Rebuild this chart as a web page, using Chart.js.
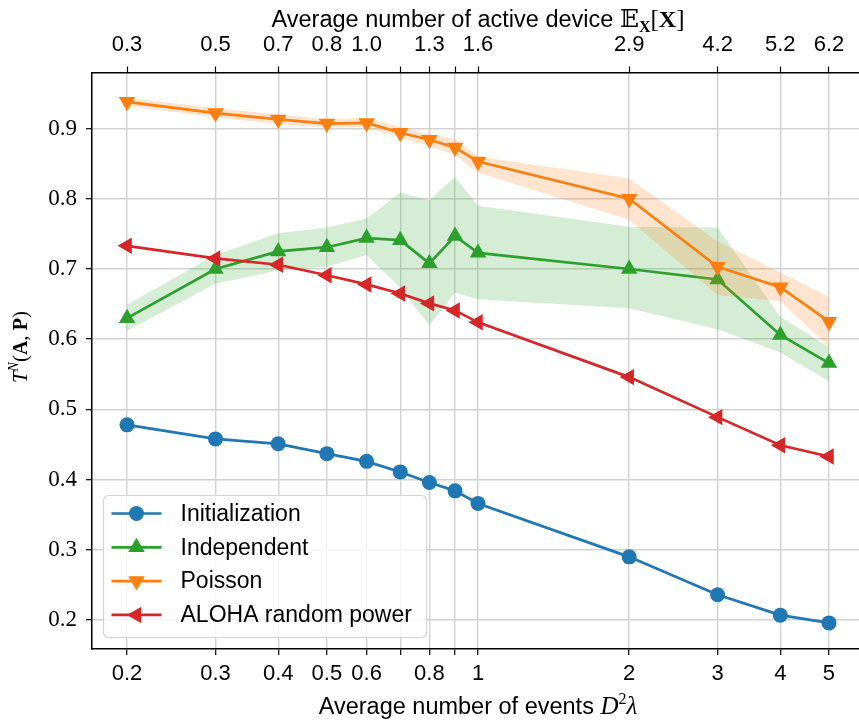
<!DOCTYPE html>
<html>
<head>
<meta charset="utf-8">
<script src="https://cdn.jsdelivr.net/npm/chart.js@4.4.1/dist/chart.umd.min.js"></script>
<style>
  html, body { margin: 0; padding: 0; background: #fff; overflow: hidden; }
  #wrap { width: 859px; height: 724px; }
</style>
</head>
<body>
<div id="wrap"><canvas id="chart" width="859" height="724"></canvas></div>
<script>
// average number of events D^2 lambda (bottom axis) and matching E_X[X] (top axis)
const xValues = [0.2, 0.3, 0.4, 0.5, 0.6, 0.7, 0.8, 0.9, 1, 2, 3, 4, 5];
const bottomLabels = ['0.2', '0.3', '0.4', '0.5', '0.6', '', '0.8', '', '1', '2', '3', '4', '5'];
const topLabels = ['0.3', '0.5', '0.7', '0.8', '1.0', '', '1.3', '', '1.6', '2.9', '4.2', '5.2', '6.2'];
const yTicks = [0.2, 0.3, 0.4, 0.5, 0.6, 0.7, 0.8, 0.9];

const initialization = [0.478, 0.458, 0.451, 0.437, 0.426, 0.411, 0.396, 0.384, 0.366, 0.290, 0.236, 0.207, 0.196];
const independent = [0.630, 0.700, 0.725, 0.731, 0.744, 0.741, 0.708, 0.747, 0.723, 0.700, 0.685, 0.606, 0.566];
const independentUpper = [0.649, 0.720, 0.751, 0.759, 0.772, 0.809, 0.798, 0.831, 0.790, 0.760, 0.759, 0.632, 0.589];
const independentLower = [0.612, 0.679, 0.698, 0.703, 0.720, 0.673, 0.620, 0.666, 0.657, 0.644, 0.614, 0.581, 0.540];
const poisson = [0.938, 0.922, 0.913, 0.907, 0.908, 0.894, 0.884, 0.873, 0.853, 0.800, 0.703, 0.674, 0.625];
const poissonUpper = [0.944, 0.929, 0.920, 0.913, 0.915, 0.902, 0.892, 0.885, 0.860, 0.829, 0.739, 0.695, 0.660];
const poissonLower = [0.932, 0.916, 0.906, 0.902, 0.902, 0.887, 0.875, 0.862, 0.837, 0.770, 0.663, 0.654, 0.589];
const aloha = [0.733, 0.715, 0.706, 0.691, 0.678, 0.665, 0.651, 0.641, 0.624, 0.546, 0.489, 0.449, 0.433];

const SANS = "'Liberation Sans', Arial, sans-serif";
const SERIF = "'Liberation Serif', 'DejaVu Serif', serif";

const pts = (arr) => arr.map((y, i) => ({ x: xValues[i], y: y }));

function line(label, values, color, style, rotation, radius, order) {
  return {
    label: label,
    data: pts(values),
    borderColor: color,
    backgroundColor: color,
    borderWidth: 2.7,
    pointStyle: style,
    pointRotation: rotation,
    pointRadius: radius,
    pointBorderWidth: 0,
    tension: 0,
    fill: false,
    order: order,
  };
}

function band(values, color, fill, order) {
  return {
    band: true,
    data: pts(values),
    borderWidth: 0,
    pointRadius: 0,
    backgroundColor: color,
    tension: 0,
    fill: fill,
    order: order,
  };
}

const datasets = [
  line('Initialization', initialization, '#1f77b4', 'circle', 0, 7.5, 6),
  band(independentUpper, 'rgba(44,160,44,0.2)', false, 5),
  band(independentLower, 'rgba(44,160,44,0.2)', '-1', 5),
  line('Independent', independent, '#2ca02c', 'triangle', 0, 9.5, 4),
  band(poissonUpper, 'rgba(255,127,14,0.2)', false, 3),
  band(poissonLower, 'rgba(255,127,14,0.2)', '-1', 3),
  line('Poisson', poisson, '#ff7f0e', 'triangle', 180, 9.5, 2),
  line('ALOHA random power', aloha, '#d62728', 'triangle', 270, 9.5, 1),
];

// draws a row of text pieces (mixed fonts) centred on (x, y)
function drawRuns(ctx, runs, x, y, angle) {
  ctx.save();
  ctx.translate(x, y);
  ctx.rotate(angle);
  let total = 0;
  runs.forEach(r => { ctx.font = r.font; r.w = ctx.measureText(r.text).width; total += r.w; });
  let cx = -total / 2;
  ctx.fillStyle = '#000';
  ctx.textAlign = 'left';
  ctx.textBaseline = 'alphabetic';
  runs.forEach(r => { ctx.font = r.font; ctx.fillText(r.text, cx, r.dy || 0); cx += r.w; });
  ctx.restore();
}

const axisTitles = {
  id: 'axisTitles',
  afterDraw(chart) {
    const ctx = chart.ctx;
    const mid = 478;
    drawRuns(ctx, [
      { text: 'Average number of active device ', font: '23.5px ' + SANS },
      { text: '\u{1D53C}', font: '25px ' + SERIF },
      { text: 'X', font: 'bold 16px ' + SERIF, dy: 5 },
      { text: '[', font: '25px ' + SERIF },
      { text: 'X', font: 'bold 24px ' + SERIF },
      { text: ']', font: '25px ' + SERIF },
    ], mid, 27, 0);
    drawRuns(ctx, [
      { text: 'Average number of events ', font: '23.5px ' + SANS },
      { text: 'D', font: 'italic 25px ' + SERIF },
      { text: '2', font: '16px ' + SERIF, dy: -10 },
      { text: '\u03BB', font: 'italic 25px ' + SERIF },
    ], mid, 714, 0);
    drawRuns(ctx, [
      { text: 'T', font: 'italic 21px ' + SERIF },
      { text: 'N', font: 'italic 14px ' + SERIF, dy: -9 },
      { text: '(', font: '21px ' + SERIF },
      { text: 'A', font: 'bold 20px ' + SERIF },
      { text: ', ', font: '21px ' + SERIF },
      { text: 'P', font: 'bold 20px ' + SERIF },
      { text: ')', font: '21px ' + SERIF },
    ], 27, 347, -Math.PI / 2);
  }
};

const boxLegend = {
  id: 'boxLegend',
  afterDraw(chart) {
    const ctx = chart.ctx;
    const a = chart.chartArea;
    const items = chart.data.datasets.filter(d => !d.band);
    const x0 = a.left + 11, w = 323, h = 142;
    const y0 = a.bottom - 12 - h;
    ctx.save();
    ctx.beginPath();
    ctx.roundRect(x0 + 0.5, y0 + 0.5, w, h, 5);
    ctx.fillStyle = 'rgba(255,255,255,0.8)';
    ctx.fill();
    ctx.strokeStyle = '#d4d4d4';
    ctx.lineWidth = 1.2;
    ctx.stroke();
    items.forEach((d, i) => {
      const cy = y0 + 18.5 + i * 33.8;
      ctx.strokeStyle = d.borderColor;
      ctx.lineWidth = d.borderWidth;
      ctx.beginPath();
      ctx.moveTo(x0 + 8.5, cy);
      ctx.lineTo(x0 + 58.5, cy);
      ctx.stroke();
      ctx.fillStyle = d.backgroundColor;
      Chart.helpers.drawPoint(ctx, {
        pointStyle: d.pointStyle, rotation: d.pointRotation, radius: d.pointRadius, borderWidth: 0
      }, x0 + 33.5, cy);
      ctx.fillStyle = '#000';
      ctx.font = '23px ' + SANS;
      ctx.textBaseline = 'middle';
      ctx.fillText(d.label, x0 + 77.5, cy + 1);
    });
    ctx.restore();
  }
};

function fixedTicks(values) {
  return (scale) => { scale.ticks = values.map(v => ({ value: v })); };
}

// keep the plot area flush with the right edge of the page
function fitX(height) {
  return (s) => { s.height = height; s.paddingLeft = 0; s.paddingRight = 0; };
}

const gridColor = '#d2d2d2';

new Chart(document.getElementById('chart'), {
  type: 'line',
  data: { datasets: datasets },
  options: {
    responsive: false,
    animation: false,
    layout: { padding: 0, autoPadding: false },
    plugins: { legend: { display: false }, tooltip: { enabled: false } },
    scales: {
      x: {
        type: 'logarithmic',
        position: 'bottom',
        min: 0.1703,
        max: 5.738,
        bounds: 'data',
        afterBuildTicks: fixedTicks(xValues),
        afterFit: fitX(75),
        grid: { color: gridColor, lineWidth: 1.4, tickColor: '#000', tickLength: 6, tickWidth: 1.2 },
        border: { color: '#000', width: 1.5 },
        ticks: {
          autoSkip: false, maxRotation: 0, padding: 6, color: '#000',
          font: { family: SANS, size: 22 },
          callback: (v) => bottomLabels[xValues.indexOf(v)],
        },
      },
      xTop: {
        type: 'logarithmic',
        position: 'top',
        min: 0.1703,
        max: 5.738,
        bounds: 'data',
        afterBuildTicks: fixedTicks(xValues),
        afterFit: fitX(72.5),
        grid: { drawOnChartArea: false, tickColor: '#000', tickLength: 6, tickWidth: 1.2 },
        border: { color: '#000', width: 1.5 },
        ticks: {
          autoSkip: false, maxRotation: 0, padding: 8, color: '#000',
          font: { family: SANS, size: 22 },
          callback: (v) => topLabels[xValues.indexOf(v)],
        },
      },
      y: {
        type: 'linear',
        min: 0.1588,
        max: 0.9798,
        afterBuildTicks: fixedTicks(yTicks),
        afterFit: (s) => { s.width = 92; },
        grid: { color: gridColor, lineWidth: 1.4, tickColor: '#000', tickLength: 6, tickWidth: 1.2 },
        border: { color: '#000', width: 1.5 },
        ticks: {
          padding: 9, color: '#000',
          font: { family: SERIF, size: 23 },
          callback: (v) => v.toFixed(1),
        },
      },
    },
  },
  plugins: [axisTitles, boxLegend],
});
</script>
</body>
</html>
